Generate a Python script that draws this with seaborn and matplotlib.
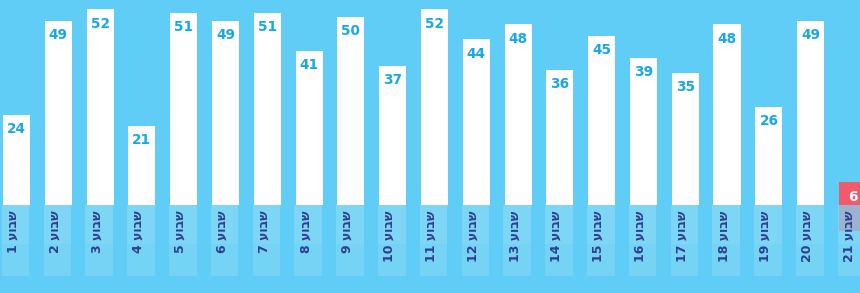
import matplotlib
matplotlib.use("Agg")
import matplotlib.pyplot as plt
import seaborn as sns
import pandas as pd
import numpy as np

weeks = list(range(1, 22))
values = [24, 49, 52, 21, 51, 49, 51, 41, 50, 37, 52, 44, 48, 36, 45, 39, 35, 48, 26, 49, 6]
week_word = "שבוע"
labels = [f"{w} {week_word[::-1]}" for w in weeks]

BG = "#5fcdf5"
BAR = "#ffffff"
HIGHLIGHT = "#f25a6c"
VALUE_BLUE = "#1aa8e4"
LABEL_NAVY = "#2e3f8f"

df = pd.DataFrame({"week": [str(w) for w in weeks], "value": values, "label": labels})
colors = [BAR] * (len(values) - 1) + [HIGHLIGHT]

sns.set_theme(style="white")
plt.rcParams["font.family"] = ["DejaVu Sans"]

fig = plt.figure(figsize=(8.6, 2.93), dpi=100)
fig.patch.set_facecolor(BG)
ax = fig.add_axes([0, 0, 1, 1])
ax.set_facecolor(BG)

# lighter band under each bar
band_depth = 19
for i in range(len(values)):
    ax.bar(i - 0.02, -band_depth, width=0.66, bottom=0, color="white", alpha=0.14, linewidth=0, zorder=1)
    ax.bar(i - 0.02, -band_depth * 0.55, width=0.66, bottom=0, color="white", alpha=0.06, linewidth=0, zorder=1)
# shadow under highlighted bar
ax.bar(len(values) - 1, -7, width=0.66, bottom=0, color="#c08aa0", alpha=0.45, linewidth=0, zorder=1)

sns.barplot(data=df, x="week", y="value", palette=colors, hue="week", legend=False,
            width=0.65, saturation=1, ax=ax, linewidth=0, zorder=2)

for i, v in enumerate(values):
    c = "white" if i == len(values) - 1 else VALUE_BLUE
    ax.text(i, v - 1.9, str(v), ha="center", va="top", fontsize=9.8, fontweight="bold",
            color=c, zorder=3)
    ax.text(i - 0.08, -1.5, labels[i], ha="center", va="top", rotation=90, fontsize=9,
            fontweight="bold", color=LABEL_NAVY, zorder=3, rotation_mode="default")

ax.set_xlim(-0.395, 20.18)
ax.set_ylim(-23.4, 54.5)
ax.axis("off")

fig.savefig("out.png", dpi=100, facecolor=BG)
